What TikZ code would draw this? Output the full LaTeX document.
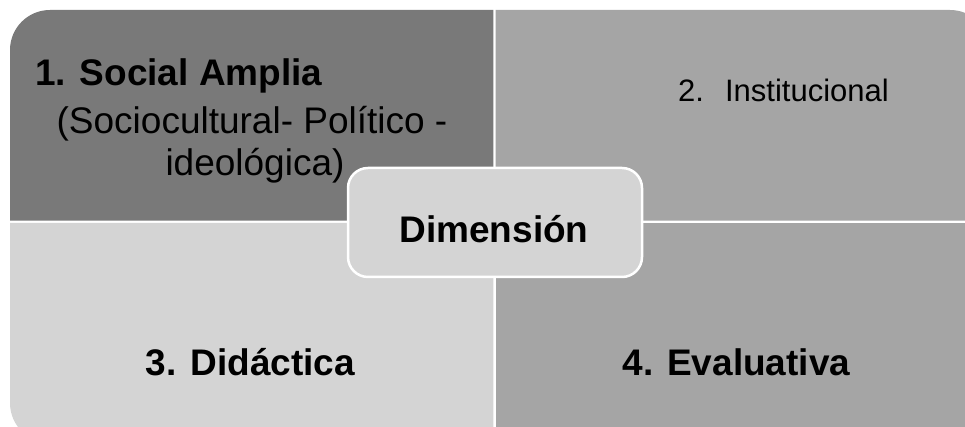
\documentclass[tikz,border=0pt]{standalone}
\usepackage{fontspec}
\setmainfont{Liberation Sans}
\definecolor{dk}{HTML}{797979}
\definecolor{md}{HTML}{A5A5A5}
\definecolor{lt}{HTML}{D4D4D4}
\begin{document}
\begin{tikzpicture}[x=1pt,y=1pt,
  big/.style={inner sep=0pt, anchor=base, font=\fontsize{37}{42}\selectfont},
  bigb/.style={big, font=\fontsize{37}{42}\selectfont\bfseries},
  small/.style={inner sep=0pt, anchor=base west, font=\fontsize{31}{36}\selectfont},
  centerbox/.style={draw=white, line width=2.5pt, fill=lt, rounded corners=20pt, minimum width=294pt, minimum height=109pt, inner sep=0pt}]
\useasboundingbox (0,0) rectangle (965,427);
\clip (0,0) rectangle (965,427);
% quadrants
\fill[dk] (10,206.4) -- (10,377) arc[start angle=180,end angle=90,radius=40] -- (493.3,417) -- (493.3,206.4) -- cycle;
\fill[md] (495.7,206.4) -- (495.7,417) -- (950,417) arc[start angle=90,end angle=0,radius=40] -- (990,206.4) -- cycle;
\fill[lt] (10,204.2) -- (10,24) arc[start angle=180,end angle=270,radius=40] -- (493.3,-16) -- (493.3,204.2) -- cycle;
\fill[md] (495.7,204.2) rectangle (990,-16);
% centre box
\node[centerbox] (dimbox) at (495,204.5) {};
\node[bigb] (dim) at (494,184) {Dimensión};
% texts
\node[bigb, anchor=base west] (t1) at (35,341) {1. Social Amplia};
\node[big] (s2) at (252,293) {(Sociocultural- Político -};
\node[big] (s3) at (255,251) {ideológica)};
\node[small] (t2) at (678,325) {2.\hspace{21pt}Institucional};
\node[bigb] (t3) at (250.5,51) {3. Didáctica};
\node[bigb] (t4) at (736.5,51) {4. Evaluativa};
\end{tikzpicture}
\end{document}
